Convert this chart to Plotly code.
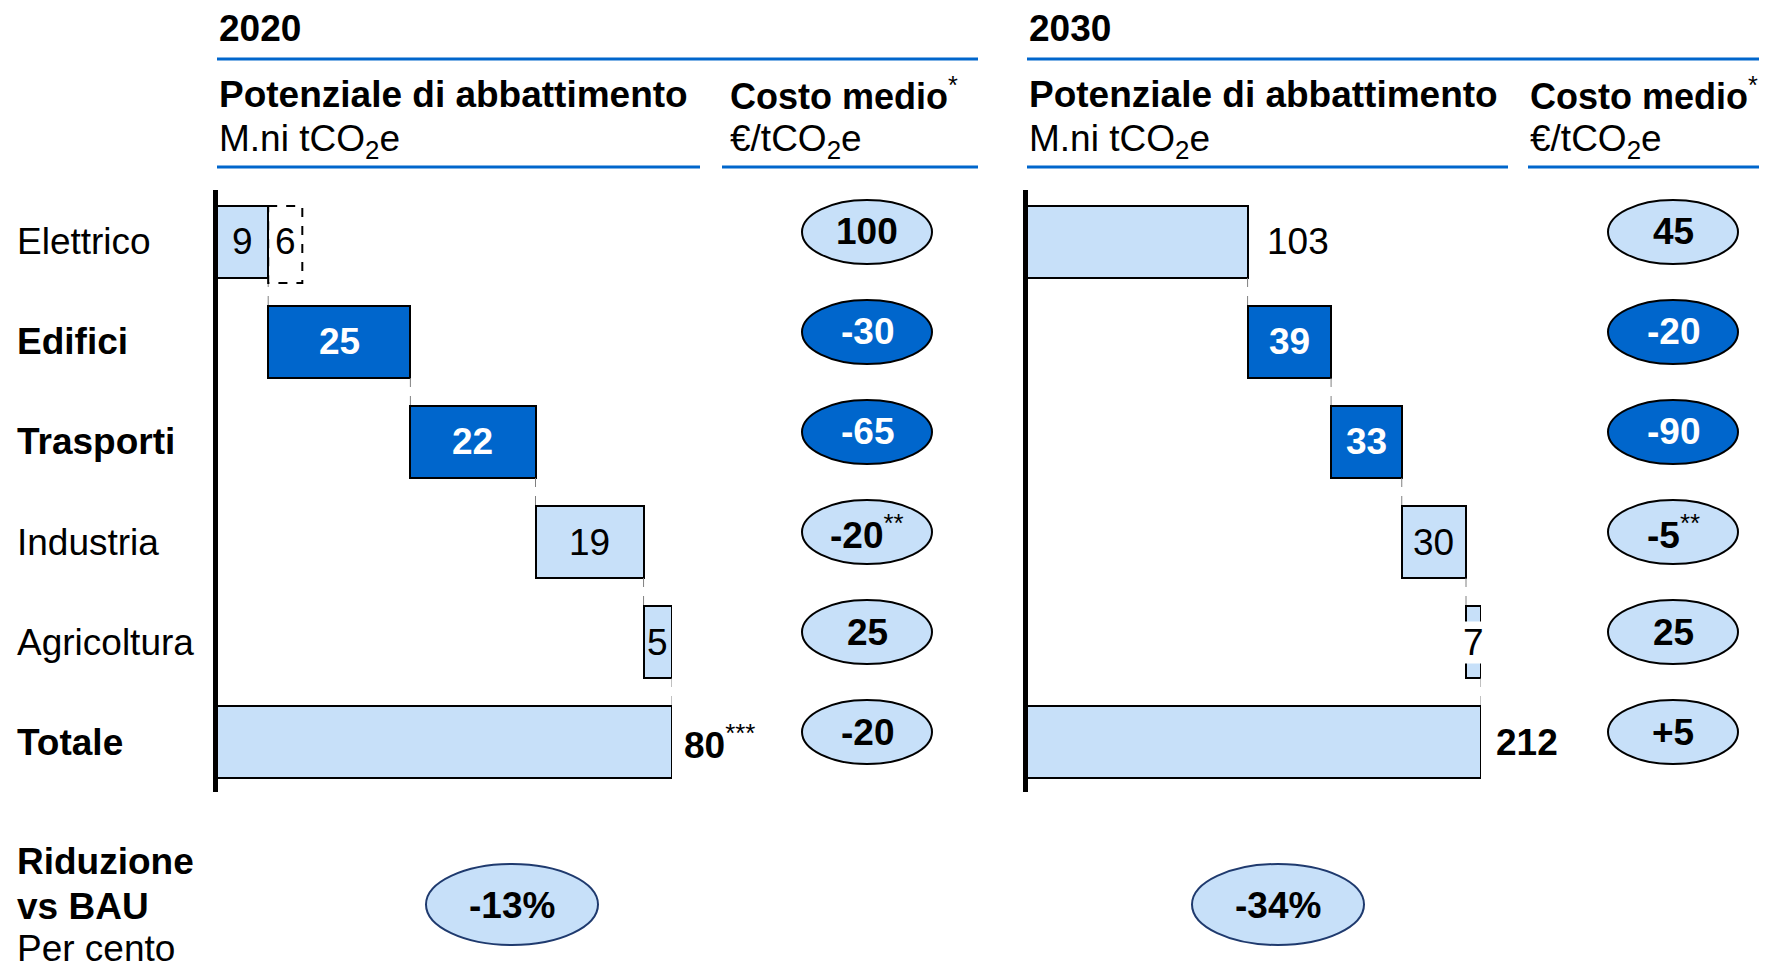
import plotly.graph_objects as go

# ---------------- data ----------------
sectors = ["Elettrico", "Edifici", "Trasporti", "Industria", "Agricoltura", "Totale"]
sector_bold = [False, True, True, False, False, True]
highlight = [False, True, True, False, False, False]

potential_2020 = [9, 25, 22, 19, 5]
extra_elettrico_2020 = 6          # dashed additional potential
total_2020 = 80
total_note_2020 = "***"

potential_2030 = [103, 39, 33, 30, 7]
total_2030 = 212
total_note_2030 = ""

cost_2020 = ["100", "-30", "-65", "-20", "25", "-20"]
cost_2030 = ["45", "-20", "-90", "-5", "25", "+5"]
cost_notes = ["", "", "", "**", "", ""]

reduction_vs_bau = ["-13%", "-34%"]
years = ["2020", "2030"]

# ---------------- style ----------------
PAGE_W, PAGE_H = 1767, 964
OFF = 8                      # default body margin of the html page
W, H = PAGE_W - OFF, PAGE_H - OFF
FONT = "Liberation Sans, Arial, sans-serif"
LIGHT = "#C7E0F9"
DARK = "#0066CC"
LINEBLUE = "#0066CC"
FS = 37


def PX(x):
    return (x - OFF) / W


def PY(y):
    return 1 - (y - OFF) / H


fig = go.Figure()

panels = [
    dict(vals=potential_2020, total=total_2020, note=total_note_2020, costs=cost_2020,
         xa="x", ya="y", x0=217, x1=672, cost_cx=867, label_modes=["inside"] * 5,
         hdr_x=217, cost_hdr_x=728, top_line=(217, 978), pot_line=(217, 700), cost_line=(722, 978),
         red_cx=512, out_shift=[17, 0, 0, 0, 0], tot_shift=10),
    dict(vals=potential_2030, total=total_2030, note=total_note_2030, costs=cost_2030,
         xa="x2", ya="y2", x0=1027, x1=1481, cost_cx=1673,
         label_modes=["outside", "inside", "inside", "inside", "inside"],
         hdr_x=1027, cost_hdr_x=1528, top_line=(1027, 1767), pot_line=(1027, 1508), cost_line=(1528, 1767),
         red_cx=1278, out_shift=[17, 0, 0, 0, 0], tot_shift=13),
]

BAR_W = 0.72
annotations = []
shapes = []

for p_i, p in enumerate(panels):
    vals = p["vals"]
    bases = []
    acc = 0
    for v in vals:
        bases.append(acc)
        acc += v
    xs = vals + [p["total"]]
    bs = bases + [0]
    ys = list(range(len(sectors)))
    colors = [DARK if h else LIGHT for h in highlight]
    fig.add_trace(go.Bar(
        x=xs, base=bs, y=ys, orientation="h", width=BAR_W,
        marker=dict(color=colors, line=dict(color="black", width=2)),
        xaxis=p["xa"], yaxis=p["ya"], showlegend=False, hoverinfo="skip",
    ))

    # bar labels
    for i, v in enumerate(vals):
        if highlight[i]:
            txt = f"<b>{v}</b>"
            col = "white"
        else:
            txt = str(v)
            col = "black"
        if p["label_modes"][i] == "inside":
            ann = dict(x=bases[i] + v / 2, y=i, xref=p["xa"], yref=p["ya"], text=txt,
                       showarrow=False, xanchor="center", yanchor="middle",
                       font=dict(family=FONT, size=FS, color=col))
            if p_i == 1 and i == 4:
                ann["bgcolor"] = "white"
                ann["borderpad"] = 0
            annotations.append(ann)
        else:
            annotations.append(dict(x=bases[i] + v, y=i, xref=p["xa"], yref=p["ya"], text=txt,
                                    showarrow=False, xanchor="left", yanchor="middle",
                                    xshift=p["out_shift"][i],
                                    font=dict(family=FONT, size=FS, color=col)))
    tot_txt = f"<b>{p['total']}</b>" + (f"<sup>{p['note']}</sup>" if p["note"] else "")
    annotations.append(dict(x=p["total"], y=5, xref=p["xa"], yref=p["ya"], text=tot_txt,
                            showarrow=False, xanchor="left", yanchor="middle", xshift=p["tot_shift"],
                            font=dict(family=FONT, size=FS, color="black")))

    # connectors
    ends = [bases[i] + vals[i] for i in range(len(vals))]
    for i, e in enumerate(ends):
        shapes.append(dict(type="line", xref=p["xa"], yref=p["ya"], x0=e, x1=e,
                           y0=i + BAR_W / 2, y1=i + 1 - BAR_W / 2,
                           line=dict(color="#808080", width=1, dash="dash")))

    # axis line
    shapes.append(dict(type="line", xref="paper", yref="paper",
                       x0=PX(p["x0"] - 1.5), x1=PX(p["x0"] - 1.5), y0=PY(190), y1=PY(792),
                       line=dict(color="black", width=5)))

    # cost ellipses
    for i, c in enumerate(p["costs"]):
        cy = i - 0.1
        shapes.append(dict(type="circle", xref="paper", yref=p["ya"],
                           x0=PX(p["cost_cx"] - 65), x1=PX(p["cost_cx"] + 65),
                           y0=cy - 0.32, y1=cy + 0.32,
                           fillcolor=DARK if highlight[i] else LIGHT,
                           line=dict(color="black", width=2), layer="above"))
        txt = f"<b>{c}</b>" + (f"<sup>{cost_notes[i]}</sup>" if cost_notes[i] else "")
        annotations.append(dict(x=PX(p["cost_cx"]), y=cy, xref="paper", yref=p["ya"], text=txt,
                                showarrow=False, xanchor="center", yanchor="middle",
                                font=dict(family=FONT, size=FS, color="white" if highlight[i] else "black")))

    # headers
    annotations.append(dict(x=PX(p["hdr_x"]), y=PY(29), xref="paper", yref="paper",
                            text=f"<b>{years[p_i]}</b>", showarrow=False, xanchor="left", yanchor="middle",
                            font=dict(family=FONT, size=FS, color="black")))
    annotations.append(dict(x=PX(p["hdr_x"]), y=PY(94), xref="paper", yref="paper",
                            text="<b>Potenziale di abbattimento</b>", showarrow=False, xanchor="left",
                            yanchor="middle", font=dict(family=FONT, size=FS, color="black")))
    annotations.append(dict(x=PX(p["hdr_x"]), y=PY(141), xref="paper", yref="paper",
                            text="M.ni tCO<sub>2</sub>e", showarrow=False, xanchor="left",
                            yanchor="middle", font=dict(family=FONT, size=FS, color="black")))
    annotations.append(dict(x=PX(p["cost_hdr_x"]), y=PY(94), xref="paper", yref="paper",
                            text="<b>Costo medio</b><sup>*</sup>", showarrow=False, xanchor="left",
                            yanchor="middle", font=dict(family=FONT, size=FS - 1, color="black")))
    annotations.append(dict(x=PX(p["cost_hdr_x"]), y=PY(141), xref="paper", yref="paper",
                            text="€/tCO<sub>2</sub>e", showarrow=False, xanchor="left",
                            yanchor="middle", font=dict(family=FONT, size=FS, color="black")))
    for (a, b), yy in [(p["top_line"], 59), (p["pot_line"], 167), (p["cost_line"], 167)]:
        shapes.append(dict(type="line", xref="paper", yref="paper", x0=PX(a), x1=PX(b),
                           y0=PY(yy), y1=PY(yy), line=dict(color=LINEBLUE, width=3)))

    # reduction ellipse
    shapes.append(dict(type="circle", xref="paper", yref="paper",
                       x0=PX(p["red_cx"] - 86), x1=PX(p["red_cx"] + 86), y0=PY(945), y1=PY(864),
                       fillcolor=LIGHT, line=dict(color="#1F3A6E", width=2)))
    annotations.append(dict(x=PX(p["red_cx"]), y=PY(905), xref="paper", yref="paper",
                            text=f"<b>{reduction_vs_bau[p_i]}</b>", showarrow=False,
                            xanchor="center", yanchor="middle",
                            font=dict(family=FONT, size=FS, color="black")))

# dashed extra box for Elettrico 2020
shapes.append(dict(type="rect", xref="x", yref="y",
                   x0=potential_2020[0], x1=potential_2020[0] + extra_elettrico_2020,
                   y0=-0.36, y1=0.41, line=dict(color="black", width=2, dash="dash"),
                   fillcolor="rgba(0,0,0,0)"))
annotations.append(dict(x=potential_2020[0] + extra_elettrico_2020 / 2, y=0, xref="x", yref="y",
                        text=str(extra_elettrico_2020), showarrow=False, xanchor="center",
                        yanchor="middle", font=dict(family=FONT, size=FS, color="black")))

# sector labels
for i, s in enumerate(sectors):
    annotations.append(dict(x=PX(15), y=i, xref="paper", yref="y",
                            text=f"<b>{s}</b>" if sector_bold[i] else s, showarrow=False,
                            xanchor="left", yanchor="middle",
                            font=dict(family=FONT, size=FS, color="black")))

for txt, yy in [("<b>Riduzione</b>", 861), ("<b>vs BAU</b>", 906), ("Per cento", 948)]:
    annotations.append(dict(x=PX(15), y=PY(yy), xref="paper", yref="paper", text=txt,
                            showarrow=False, xanchor="left", yanchor="middle",
                            font=dict(family=FONT, size=FS, color="black")))

ydom = [PY(792), PY(192)]
hidden = dict(showgrid=False, zeroline=False, showticklabels=False, showline=False, ticks="", fixedrange=True)
fig.update_layout(
    width=W, height=H, margin=dict(l=0, r=0, t=0, b=0),
    paper_bgcolor="white", plot_bgcolor="rgba(0,0,0,0)",
    font=dict(family=FONT, size=FS, color="black"),
    xaxis=dict(domain=[PX(217), PX(672)], range=[0, total_2020], anchor="y", **hidden),
    yaxis=dict(domain=ydom, range=[5.5, -0.5], anchor="x", **hidden),
    xaxis2=dict(domain=[PX(1027), PX(1481)], range=[0, total_2030], anchor="y2", **hidden),
    yaxis2=dict(domain=ydom, range=[5.5, -0.5], anchor="x2", **hidden),
    bargap=0, annotations=annotations, shapes=shapes, showlegend=False,
)

fig.write_html("out.html")
